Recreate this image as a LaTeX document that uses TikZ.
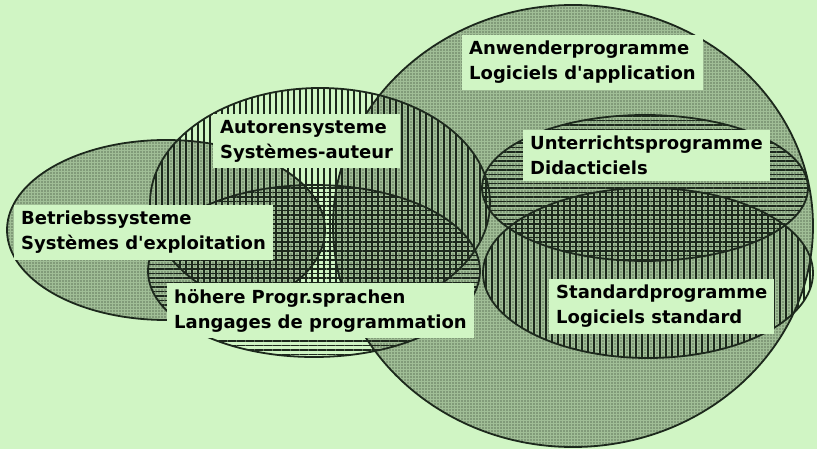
\documentclass[tikz,border=0pt]{standalone}
\usepackage{fontspec}
\setmainfont{DejaVu Sans}
\usetikzlibrary{patterns.meta}
\definecolor{paper}{RGB}{208,245,196}
\definecolor{ink}{RGB}{28,40,28}
\definecolor{shade}{RGB}{160,190,150}
\tikzset{
  % dotted sets
  dotfill/.style={fill=shade,
    postaction={pattern={Dots[distance=3pt, radius=0.7pt]}, pattern color=ink}},
  % line shaded sets
  hlines/.style={pattern={Lines[angle=0, distance=4.5pt, line width=1.2pt]}, pattern color=ink},
  vlines/.style={pattern={Lines[angle=90, distance=6pt, line width=1.5pt]}, pattern color=ink},
  rim/.style={draw=ink, line width=1.8pt},
  tag/.style={fill=paper, inner xsep=7pt, inner ysep=6pt, align=left,
    anchor=north west, font=\bfseries\fontsize{18}{25}\selectfont},
}
\begin{document}
\begin{tikzpicture}[x=1pt, y=-1pt]
  \fill[paper] (0,0) rectangle (817,449);
  \useasboundingbox (0,0) rectangle (817,449);
  \path[dotfill] (573,226) ellipse [x radius=240, y radius=221]; % Anwender
  \path[dotfill] (166,230) ellipse [x radius=159, y radius=90]; % Betrieb
  \path[hlines] (645,188) ellipse [x radius=163, y radius=73]; % Unterricht
  \path[vlines] (648,273) ellipse [x radius=165, y radius=85]; % Standard
  \path[vlines] (320,203) ellipse [x radius=170, y radius=115]; % Autoren
  \path[hlines] (314,271) ellipse [x radius=166, y radius=86]; % Sprachen
  \draw[rim] (573,226) ellipse [x radius=240, y radius=221];
  \draw[rim] (166,230) ellipse [x radius=159, y radius=90];
  \draw[rim] (645,188) ellipse [x radius=163, y radius=73];
  \draw[rim] (648,273) ellipse [x radius=165, y radius=85];
  \draw[rim] (320,203) ellipse [x radius=170, y radius=115];
  \draw[rim] (314,271) ellipse [x radius=166, y radius=86];
  \node[tag] (anwender) at (462,35) {Anwenderprogramme\\Logiciels d\textquotesingle application};
  \node[tag] (autoren) at (213,114) {Autorensysteme\\Systèmes-auteur};
  \node[tag] (unterricht) at (523,130) {Unterrichtsprogramme\\Didacticiels};
  \node[tag] (betrieb) at (14,205) {Betriebssysteme\\Systèmes d\textquotesingle exploitation};
  \node[tag] (sprachen) at (167,283) {höhere Progr.sprachen\\Langages de programmation};
  \node[tag] (standard) at (549,279) {Standardprogramme\\Logiciels standard};
\end{tikzpicture}
\end{document}
